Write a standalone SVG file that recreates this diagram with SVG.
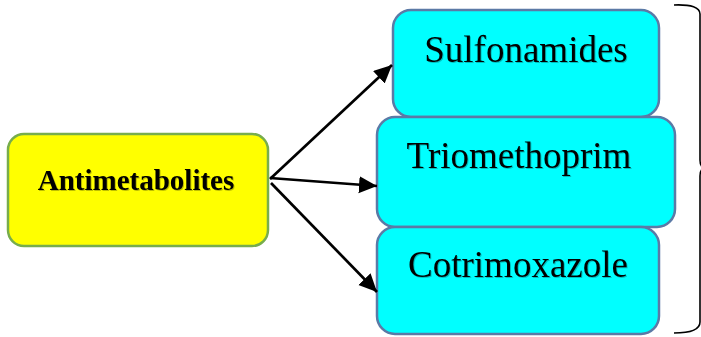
<svg xmlns="http://www.w3.org/2000/svg" width="701" height="337" viewBox="0 0 701 337">
  <style>
    .root { fill: #ffff00; stroke: #77ad4c; stroke-width: 2.5; }
    .drug { fill: #00ffff; stroke: #5b7aa6; stroke-width: 2.5; }
    .label { font-family: "Liberation Serif", "Times New Roman", serif; fill: #000000; }
    .big { font-size: 37px; text-anchor: middle; filter: url(#soft); }
    .bold { font-size: 29px; font-weight: bold; text-anchor: middle; filter: url(#soft); }
    .edge { stroke: #000000; stroke-width: 2.7; fill: none; marker-end: url(#head); }
    .brace { stroke: #000000; stroke-width: 1.6; fill: none; }
  </style>
  <defs>
    <marker id="head" markerUnits="userSpaceOnUse" markerWidth="20" markerHeight="18" refX="18" refY="8.5" orient="auto">
      <path d="M0,0 L18,8.5 L0,17 Z" fill="#000000"/>
    </marker>
    <filter id="soft" x="-5%" y="-20%" width="110%" height="140%">
      <feDropShadow dx="1" dy="1" stdDeviation="0.6" flood-color="#000000" flood-opacity="0.25"/>
    </filter>
  </defs>

  <rect width="701" height="337" fill="#ffffff"/>

  <g id="antimetabolites">
    <rect class="root" x="8" y="134" width="260" height="112" rx="16" ry="16"/>
    <text class="label bold" x="136" y="190">Antimetabolites</text>
  </g>

  <g id="sulfonamides">
    <rect class="drug" x="393" y="10" width="266" height="107" rx="18" ry="18"/>
    <text class="label big" x="526" y="62">Sulfonamides</text>
  </g>

  <g id="triomethoprim">
    <rect class="drug" x="377" y="117" width="298" height="110" rx="18" ry="18"/>
    <text class="label big" x="519" y="168">Triomethoprim</text>
  </g>

  <g id="cotrimoxazole">
    <rect class="drug" x="377" y="227" width="282" height="107" rx="18" ry="18"/>
    <text class="label big" x="518" y="277">Cotrimoxazole</text>
  </g>

  <g id="connectors">
    <line class="edge" x1="270" y1="179" x2="392" y2="65"/>
    <line class="edge" x1="270" y1="178" x2="377" y2="186"/>
    <line class="edge" x1="271" y1="183" x2="377" y2="292"/>
  </g>

  <g id="bracket">
    <path class="brace" d="M674,5 Q700,4 700,14 L700,160 Q700,168 706,168 Q700,168 700,176 L700,322 Q700,333 674,333"/>
  </g>
</svg>
